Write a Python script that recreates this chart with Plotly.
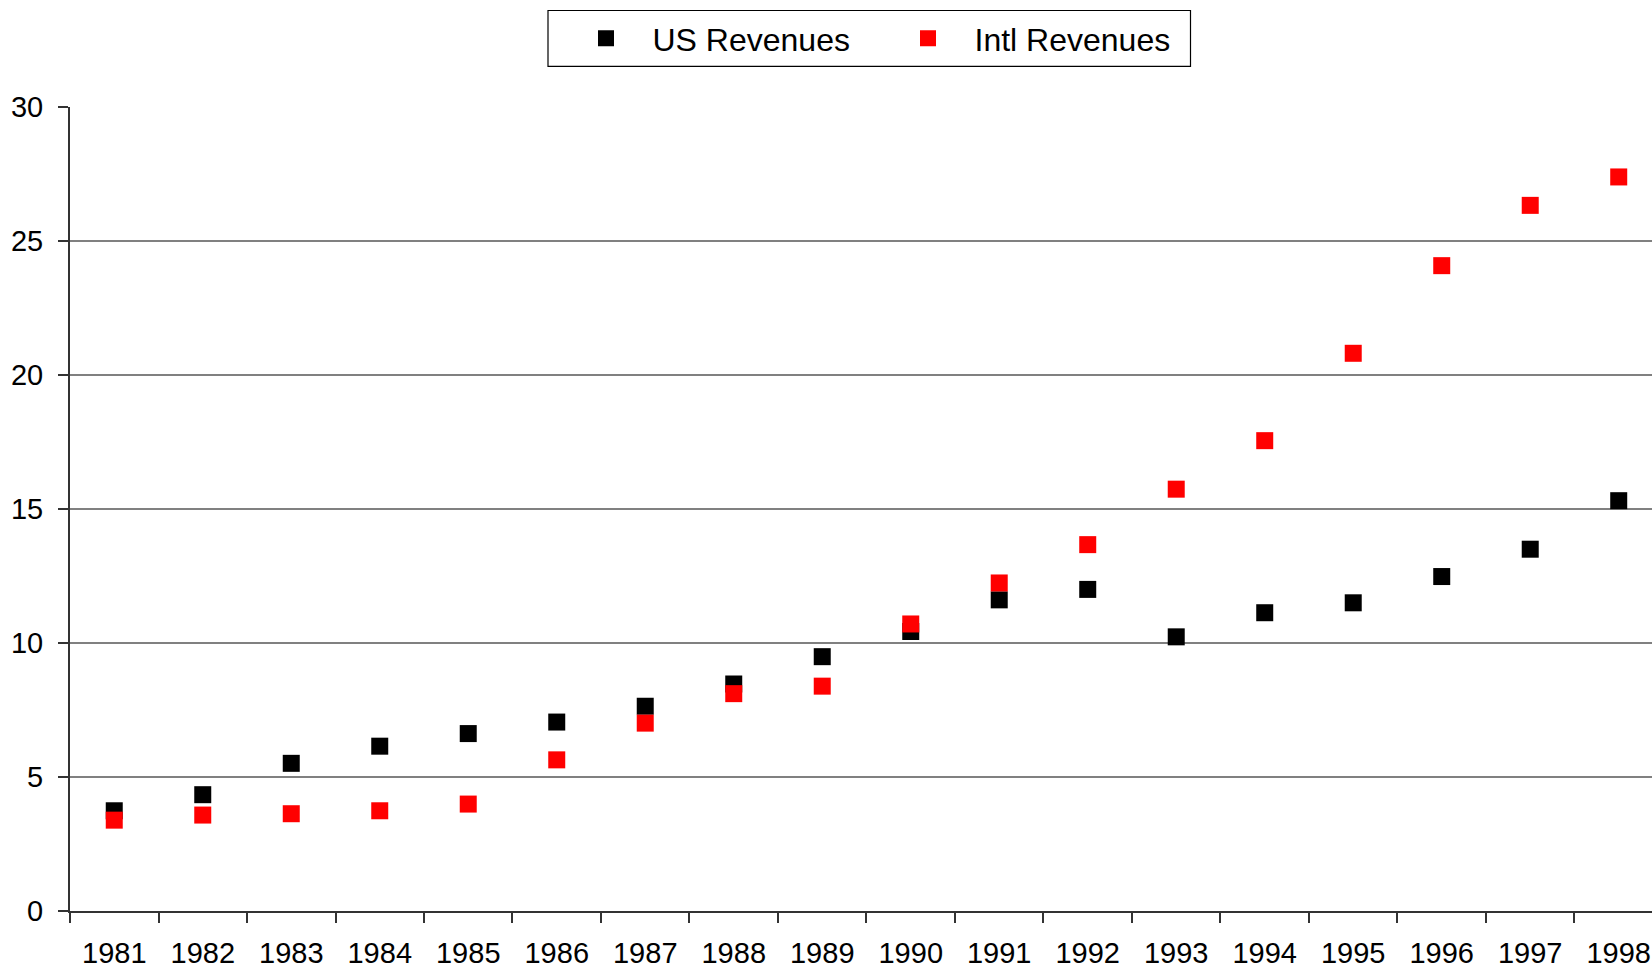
import plotly.graph_objects as go

years = ["1981", "1982", "1983", "1984", "1985", "1986", "1987", "1988", "1989",
         "1990", "1991", "1992", "1993", "1994", "1995", "1996", "1997", "1998"]
us_revenues = [3.74, 4.34, 5.51, 6.15, 6.62, 7.05, 7.64, 8.47, 9.49,
               10.43, 11.61, 12.00, 10.23, 11.13, 11.50, 12.48, 13.50, 15.31]
intl_revenues = [3.39, 3.58, 3.63, 3.74, 3.99, 5.64, 7.01, 8.11, 8.39,
                 10.71, 12.24, 13.67, 15.74, 17.55, 20.81, 24.08, 26.33, 27.39]
y_ticks = [0, 5, 10, 15, 20, 25, 30]

FONT = "Liberation Sans, Arial, sans-serif"
W, H = 1652, 969
L, R, T, B = 70, 0, 107, 58
PW, PH = W - L - R, H - T - B


def px_x(p):
    return (p - L) / PW


def px_y(p):
    return (H - B - p) / PH


fig = go.Figure()
fig.add_trace(go.Scatter(
    x=years, y=us_revenues, mode="markers", name="US Revenues",
    marker=dict(symbol="square", size=17, color="#000000", line=dict(width=0)),
))
fig.add_trace(go.Scatter(
    x=years, y=intl_revenues, mode="markers", name="Intl Revenues",
    marker=dict(symbol="square", size=17, color="#FF0000", line=dict(width=0)),
))

# legend frame
fig.add_shape(type="rect", xref="paper", yref="paper",
              x0=px_x(548), x1=px_x(1190.5), y0=px_y(66.4), y1=px_y(10.5),
              line=dict(color="black", width=1.2), fillcolor="white", layer="below")

fig.update_layout(
    width=W, height=H,
    margin=dict(l=L, r=R, t=T, b=B, pad=0, autoexpand=False),
    paper_bgcolor="white", plot_bgcolor="white",
    font=dict(family=FONT, size=29, color="black"),
    showlegend=True,
    legend=dict(
        orientation="h", x=px_x(559.5), xanchor="left", y=px_y(38.4), yanchor="middle",
        borderwidth=0, bgcolor="rgba(0,0,0,0)",
        font=dict(family=FONT, size=32, color="black"),
        itemwidth=83, entrywidth=224, entrywidthmode="pixels",
    ),
    xaxis=dict(
        type="category", range=[-0.5, 17.376], tickson="boundaries",
        ticks="outside", ticklen=10, tickwidth=1.5, tickcolor="#333333",
        showline=True, linecolor="#333333", linewidth=2,
        showgrid=False, zeroline=False, ticklabelstandoff=15,
        tickfont=dict(family=FONT, size=29, color="black"),
    ),
    yaxis=dict(
        range=[0, 30], tickvals=y_ticks, ticks="outside", ticklen=10,
        tickwidth=1.5, tickcolor="#333333",
        showline=True, linecolor="#333333", linewidth=2,
        showgrid=True, gridcolor="#808080", gridwidth=1.5, zeroline=False,
        ticklabelstandoff=9,
        tickfont=dict(family=FONT, size=29, color="black"),
    ),
)

fig.write_html("out.html", config={"displayModeBar": False},
               post_script="document.body.style.margin='0';")
